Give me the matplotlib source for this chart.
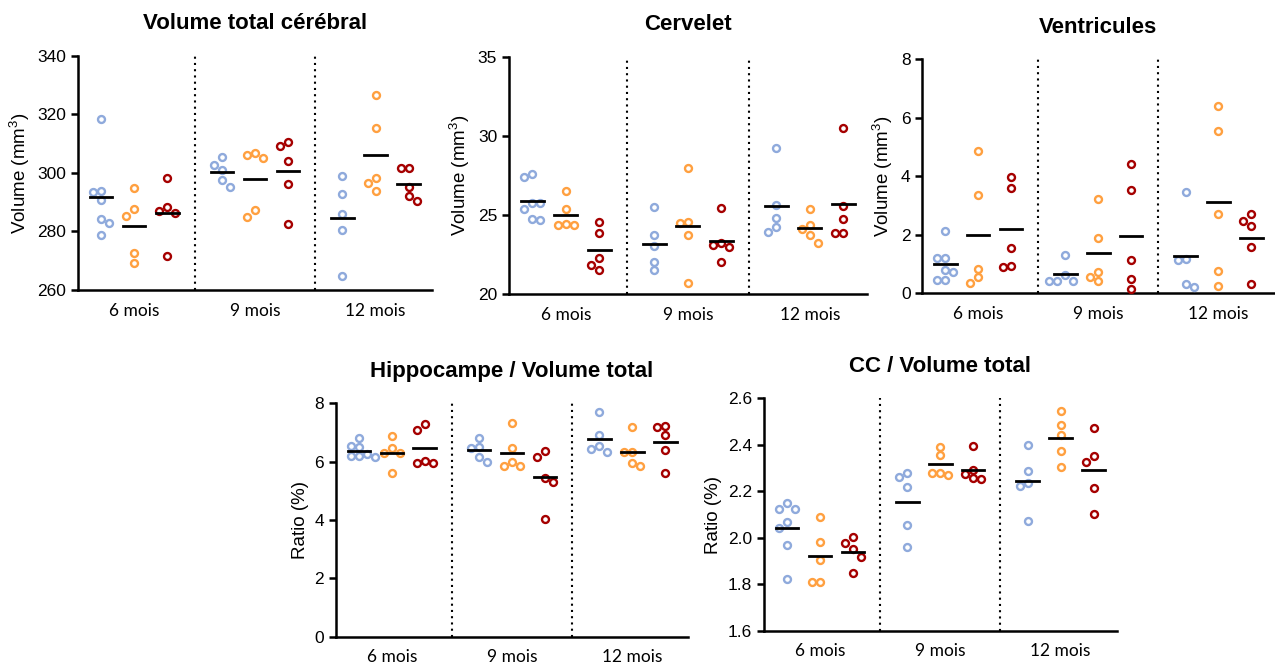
import numpy as np
import matplotlib
matplotlib.use("Agg")
import matplotlib.pyplot as plt

plt.rcParams['font.family'] = ['Liberation Sans', 'DejaVu Sans']
plt.rcParams['mathtext.fontset'] = 'custom'
plt.rcParams['mathtext.rm'] = 'Liberation Sans'

ages = ["6 mois", "9 mois", "12 mois"]

# Volume total cérébral (mm3) : [6 mois, 9 mois, 12 mois]
vt_blue = [[318.3, 293.9, 293.3, 290.6, 284.1, 283.0, 278.7],
           [305.3, 302.8, 301.1, 297.6, 295.3],
           [299.0, 292.8, 286.1, 280.5, 264.7]]
vt_orange = [[294.9, 287.5, 285.3, 272.7, 269.3],
             [306.9, 306.1, 305.0, 287.3, 285.0],
             [326.6, 315.4, 298.2, 296.4, 293.9]]
vt_red = [[298.1, 288.4, 287.1, 286.2, 271.6],
          [310.6, 309.2, 304.2, 296.3, 282.4],
          [301.8, 301.5, 295.3, 292.2, 290.3]]

# Cervelet (mm3)
cb_blue = [[27.56, 27.42, 25.77, 25.73, 25.37, 24.72, 24.66],
           [25.52, 23.75, 23.06, 22.04, 21.52],
           [29.21, 25.60, 24.78, 24.24, 23.94]]
cb_orange = [[26.49, 25.35, 24.42, 24.38, 24.38],
             [27.98, 24.55, 24.51, 23.75, 20.72],
             [25.35, 24.34, 24.13, 23.73, 23.24]]
cb_red = [[24.57, 23.83, 22.28, 21.83, 21.52],
          [25.42, 23.20, 23.10, 22.99, 22.00],
          [30.51, 25.56, 24.76, 23.84, 23.84]]

# Ventricules (mm3)
ve_blue = [[2.14, 1.19, 1.19, 0.80, 0.74, 0.46, 0.46],
           [1.31, 0.63, 0.43, 0.43, 0.43],
           [3.47, 1.17, 1.12, 0.30, 0.22]]
ve_orange = [[4.86, 3.35, 0.83, 0.55, 0.36],
             [3.22, 1.90, 0.72, 0.57, 0.43],
             [6.40, 5.53, 2.70, 0.75, 0.24]]
ve_red = [[3.97, 3.61, 1.56, 0.94, 0.91],
          [4.40, 3.53, 1.15, 0.48, 0.16],
          [2.72, 2.48, 2.30, 1.59, 0.33]]

# Hippocampe / Volume total (%)
hi_blue = [[6.80, 6.55, 6.50, 6.26, 6.20, 6.19, 6.17],
           [6.82, 6.51, 6.46, 6.15, 5.98],
           [7.71, 6.91, 6.55, 6.42, 6.32]]
hi_orange = [[6.88, 6.46, 6.31, 6.29, 5.62],
             [7.31, 6.48, 6.00, 5.85, 5.85],
             [7.18, 6.34, 6.34, 5.94, 5.85]]
hi_red = [[7.28, 7.09, 6.02, 5.97, 5.94],
          [6.37, 6.17, 5.44, 5.29, 4.02],
          [7.23, 7.18, 6.91, 6.40, 5.62]]

# CC / Volume total (%)
cc_blue = [[2.151, 2.122, 2.122, 2.069, 2.043, 1.969, 1.822],
           [2.277, 2.260, 2.217, 2.053, 1.959],
           [2.398, 2.289, 2.234, 2.223, 2.073]]
cc_orange = [[2.089, 1.982, 1.904, 1.811, 1.811],
             [2.391, 2.356, 2.280, 2.280, 2.270],
             [2.547, 2.484, 2.441, 2.373, 2.303]]
cc_red = [[2.005, 1.979, 1.950, 1.918, 1.847],
          [2.395, 2.292, 2.274, 2.256, 2.251],
          [2.474, 2.352, 2.327, 2.213, 2.101]]

colors = ["#8FAADC", "#FFA040", "#A50000"]
group_step = 3.65


def swarm(ax, x0, vals, step_px=8.0, thr=8.0):
    # spread overlapping points sideways (like a dot plot)
    order = np.argsort(vals)[::-1]
    placed = []
    xs = np.zeros(len(vals))
    px0 = ax.transData.transform((x0, 0))[0]
    px1 = ax.transData.transform((x0 + 1, 0))[0]
    unit = px1 - px0
    for i in order:
        ypx = ax.transData.transform((x0, vals[i]))[1]
        left = sum(1 for p in placed if p[0] < 0)
        right = sum(1 for p in placed if p[0] > 0)
        cands = [0]
        for k in range(1, 5):
            cands += [-k, k] if left <= right else [k, -k]
        for c in cands:
            ok = all(np.hypot((c - p[0]) * step_px, ypx - p[1]) >= thr - 0.01 for p in placed)
            if ok:
                placed.append((c, ypx))
                xs[i] = x0 + c * step_px / unit
                break
    return xs


def panel(ax, title, ylabel, ylim, yticks, series, fmt=None):
    ax.set_xlim(-1.7, 2 * group_step + 1.7)
    ax.set_ylim(*ylim)
    for g in range(3):
        for s, data in enumerate(series):
            x0 = g * group_step + (s - 1)
            vals = np.array(data[g])
            xs = swarm(ax, x0, vals)
            ax.plot(xs, vals, 'o', ms=5, mfc='white', mec=colors[s], mew=1.7,
                    clip_on=False, zorder=3)
            m = vals.mean()
            ax.plot([x0 - 0.34, x0 + 0.34], [m, m], color='black', lw=2, zorder=4)
    for g in range(2):
        xd = (g + 0.5) * group_step
        ax.axvline(xd, color='black', ls=(0, (1, 2)), lw=1.5, zorder=1)
    ax.set_xticks([g * group_step for g in range(3)])
    ax.set_xticklabels(ages, family=['Lato', 'DejaVu Sans'], fontsize=12.5)
    ax.tick_params(axis='x', length=0, pad=9)
    ax.set_yticks(yticks)
    if fmt:
        ax.set_yticklabels([fmt.format(t) for t in yticks])
    ax.tick_params(axis='y', length=5, width=1.8, labelsize=12.5, direction='out')
    ax.spines['top'].set_visible(False)
    ax.spines['right'].set_visible(False)
    ax.spines['left'].set_linewidth(1.8)
    ax.spines['bottom'].set_linewidth(1.8)
    ax.set_ylabel(ylabel, fontsize=13.5)
    ax.set_title(title, fontsize=16, fontweight='bold', pad=19)


fig = plt.figure(figsize=(12.75, 6.67), dpi=100)
ax1 = fig.add_axes([0.0612, 0.5652, 0.2774, 0.3513])
ax2 = fig.add_axes([0.3992, 0.5592, 0.2805, 0.3558])
ax3 = fig.add_axes([0.7234, 0.5603, 0.2761, 0.3513])
ax4 = fig.add_axes([0.2633, 0.0454, 0.2766, 0.3499])
ax5 = fig.add_axes([0.5992, 0.0544, 0.2766, 0.3484])

vol_label = "Volume (mm$^3$)"
panel(ax1, "Volume total cérébral", vol_label, (260, 340), [260, 280, 300, 320, 340],
      [vt_blue, vt_orange, vt_red])
panel(ax2, "Cervelet", vol_label, (20, 35), [20, 25, 30, 35],
      [cb_blue, cb_orange, cb_red])
panel(ax3, "Ventricules", vol_label, (0, 8), [0, 2, 4, 6, 8],
      [ve_blue, ve_orange, ve_red])
panel(ax4, "Hippocampe / Volume total", "Ratio (%)", (0, 8), [0, 2, 4, 6, 8],
      [hi_blue, hi_orange, hi_red])
panel(ax5, "CC / Volume total", "Ratio (%)", (1.6, 2.6), [1.6, 1.8, 2.0, 2.2, 2.4, 2.6],
      [cc_blue, cc_orange, cc_red], fmt="{:.1f}")

fig.savefig("out.png", dpi=100)
